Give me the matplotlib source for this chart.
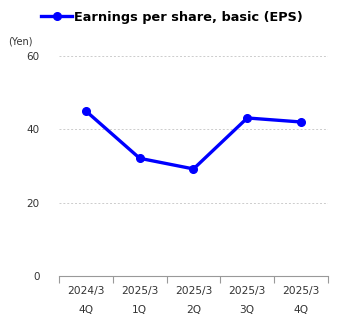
import matplotlib
matplotlib.use("Agg")
import matplotlib.pyplot as plt
import numpy as np

categories = ["2024/3\n4Q", "2025/3\n1Q", "2025/3\n2Q", "2025/3\n3Q", "2025/3\n4Q"]
eps = [45.0, 32.1, 29.2, 43.1, 42.0]
yticks = [0, 20, 40, 60]
series_name = "Earnings per share, basic (EPS)"

fig = plt.figure(figsize=(3.45, 3.3), dpi=100)
W, H = 345, 330
ax = fig.add_axes([59 / W, (H - 276) / H, (328 - 59) / W, (276 - 56) / H])

x = np.arange(len(categories))
line, = ax.plot(x, eps, color="#0000ff", lw=2.4, marker="o", ms=5.5, zorder=3,
                label=series_name)

ax.set_xlim(-0.5, len(categories) - 0.5)
ax.set_ylim(0, 60)
ax.set_yticks(yticks)
ax.set_yticklabels([str(v) for v in yticks], fontsize=7.5, color="#333333")
ax.tick_params(axis="y", length=0, pad=14)
for v in yticks[1:]:
    ax.axhline(v, color="#cccccc", lw=0.7, ls=(0, (2, 2)), zorder=1)

ax.set_xticks(x)
ax.set_xticklabels(categories, fontsize=7.7, color="#333333", linespacing=2.1)
ax.tick_params(axis="x", length=0, pad=7)
ax.set_xticks(np.arange(len(categories) + 1) - 0.5, minor=True)
ax.tick_params(axis="x", which="minor", length=5, color="#999999", width=0.8, direction="out")

for s in ["left", "right", "top"]:
    ax.spines[s].set_visible(False)
ax.spines["bottom"].set_color("#999999")
ax.spines["bottom"].set_linewidth(0.8)

fig.text(8 / W, 1 - 42 / H, "(Yen)", fontsize=7, color="#333333", va="center", ha="left")

leg = fig.legend(handles=[line], loc="center", bbox_to_anchor=(172 / W, 1 - 17 / H),
                 frameon=False, prop={"weight": "bold", "size": 9.3},
                 handlelength=2.4, handletextpad=0.1, borderaxespad=0, borderpad=0)

fig.savefig("out.png", dpi=100)
